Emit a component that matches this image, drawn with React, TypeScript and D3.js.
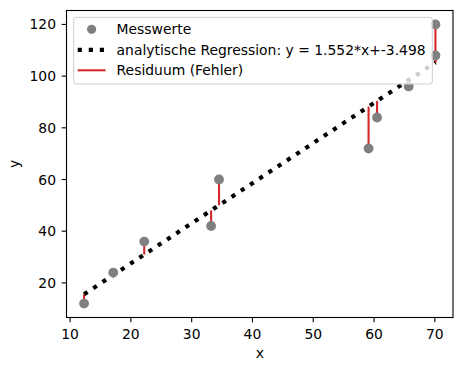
import React from "react";
import * as d3 from "d3";

const xValues: number[] = [12.3, 17.1, 22.2, 33.2, 34.5, 59.1, 60.5, 65.7, 70.1, 70.1];
const yValues: number[] = [12, 24, 36, 42, 60, 72, 84, 96, 108, 120];
const slope = 1.552;
const intercept = -3.498;
const xTicks: number[] = [10, 20, 30, 40, 50, 60, 70];
const yTicks: number[] = [20, 40, 60, 80, 100, 120];
const legendLabels: string[] = [
  "Messwerte",
  "analytische Regression: y = 1.552*x+-3.498",
  "Residuum (Fehler)",
];

const W = 463;
const H = 371;
const left = 66.5, right = 453, top = 10.5, bottom = 317.5;
const FONT = "'DejaVu Sans', sans-serif";
const FS = 13.9;
const GRAY = "#808080";
const RED = "#d62728";
const TICK = 4.86;

function padded(vals: number[]): [number, number] {
  const mn = d3.min(vals)!;
  const mx = d3.max(vals)!;
  const m = (mx - mn) * 0.05;
  return [mn - m, mx + m];
}

export default function App() {
  const x = d3.scaleLinear().domain(padded(xValues)).range([left, right]);
  const y = d3.scaleLinear().domain(padded(yValues)).range([bottom, top]);
  const pred = (v: number) => slope * v + intercept;
  const pts = xValues.map((v, i) => ({ x: v, y: yValues[i] }));
  const sorted = [...xValues].sort((a, b) => a - b);
  const line = d3
    .line<number>()
    .x((d) => x(d))
    .y((d) => y(pred(d)));

  const legX = 73.7, legY = 17.3, legW = 358.6, legH = 66.7;
  const rows = [29.3, 49.8, 70.3];
  const hx0 = 77.7, hx1 = 105.5;
  const textX = 116.6;

  return (
    <svg
      width={W}
      height={H}
      style={{ position: "absolute", left: 0, top: 0, background: "#fff" }}
      fontFamily={FONT}
    >
      <rect x={0} y={0} width={W} height={H} fill="#fff" />
      {pts.map((p, i) => (
        <line
          key={"r" + i}
          x1={x(p.x)}
          x2={x(p.x)}
          y1={y(p.y)}
          y2={y(pred(p.x))}
          stroke={RED}
          strokeWidth={2.08}
        />
      ))}
      <path
        d={line(sorted) || ""}
        fill="none"
        stroke="#000"
        strokeWidth={4.17}
        strokeDasharray="4.17 6.88"
      />
      {pts.map((p, i) => (
        <circle key={"p" + i} cx={x(p.x)} cy={y(p.y)} r={4.9} fill={GRAY} />
      ))}
      <rect
        x={left}
        y={top}
        width={right - left}
        height={bottom - top}
        fill="none"
        stroke="#000"
        strokeWidth={1.1}
      />
      {xTicks.map((t) => (
        <g key={"xt" + t}>
          <line x1={x(t)} x2={x(t)} y1={bottom} y2={bottom + TICK} stroke="#000" strokeWidth={1.1} />
          <text x={x(t)} y={339.4} fontSize={FS} textAnchor="middle" fill="#000">
            {t}
          </text>
        </g>
      ))}
      {yTicks.map((t) => (
        <g key={"yt" + t}>
          <line x1={left - TICK} x2={left} y1={y(t)} y2={y(t)} stroke="#000" strokeWidth={1.1} />
          <text x={56} y={y(t) + 5} fontSize={FS} textAnchor="end" fill="#000">
            {t}
          </text>
        </g>
      ))}
      <text x={(left + right) / 2} y={357.5} fontSize={FS} textAnchor="middle" fill="#000">
        x
      </text>
      <text
        transform={`translate(19, ${(top + bottom) / 2}) rotate(-90)`}
        fontSize={FS}
        textAnchor="middle"
        fill="#000"
      >
        y
      </text>
      <rect
        x={legX}
        y={legY}
        width={legW}
        height={legH}
        rx={2.5}
        fill="#fff"
        fillOpacity={0.8}
        stroke="#cccccc"
        strokeWidth={1}
      />
      <circle cx={(hx0 + hx1) / 2} cy={rows[0]} r={4.6} fill={GRAY} />
      <line
        x1={hx0}
        x2={hx1}
        y1={rows[1]}
        y2={rows[1]}
        stroke="#000"
        strokeWidth={4.17}
        strokeDasharray="4.17 6.88"
      />
      <line x1={hx0} x2={hx1} y1={rows[2]} y2={rows[2]} stroke={RED} strokeWidth={2.08} />
      {legendLabels.map((l, i) => (
        <text key={"l" + i} x={textX} y={rows[i] + 4.9} fontSize={FS} fill="#000">
          {l}
        </text>
      ))}
    </svg>
  );
}
